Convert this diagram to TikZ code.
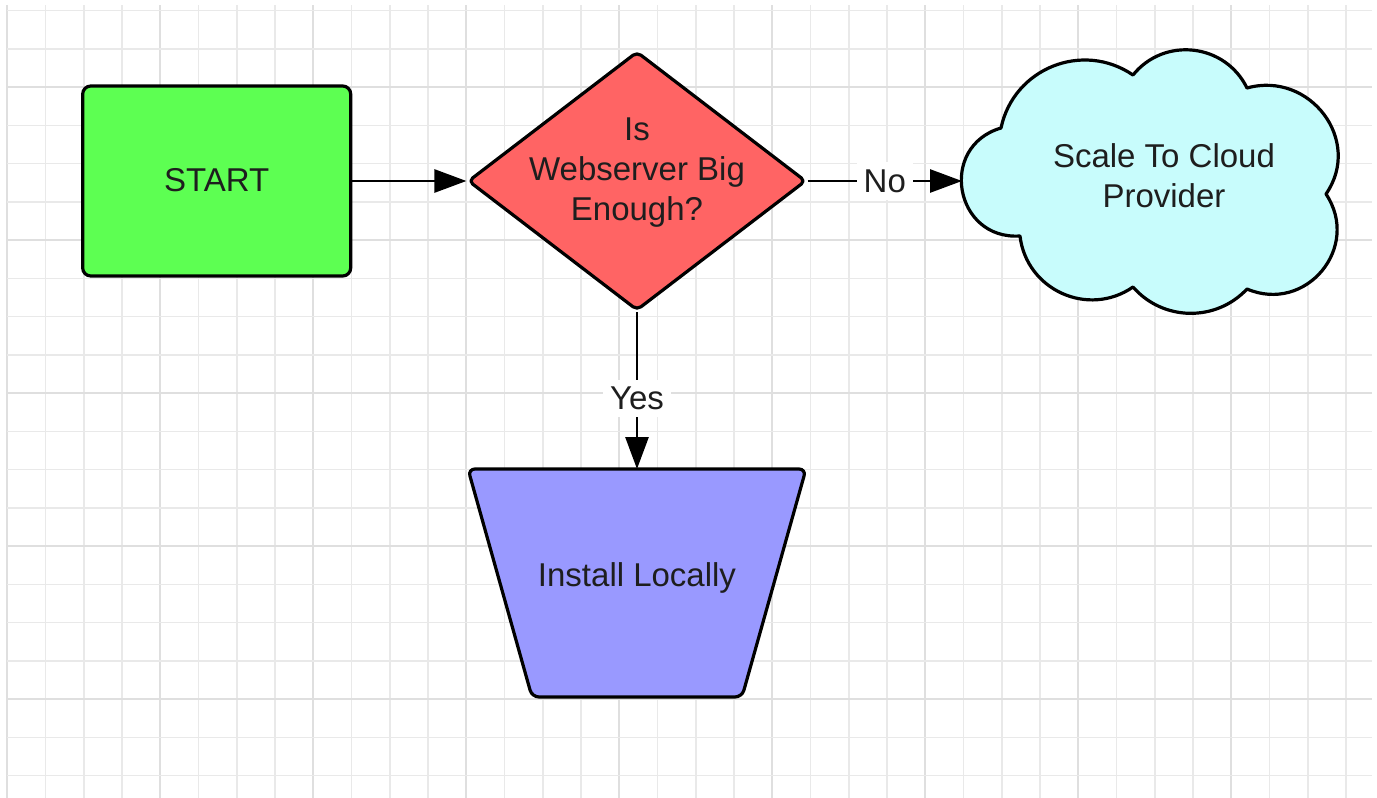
\documentclass[tikz,border=0pt]{standalone}
\usepackage{fontspec}
\setmainfont{Liberation Sans}
\usetikzlibrary{shapes.geometric,arrows.meta}
\definecolor{gridminor}{HTML}{E9E9E9}
\definecolor{gridmajor}{HTML}{DFDFDF}
\definecolor{startgreen}{HTML}{5DFF52}
\definecolor{decred}{HTML}{FF6464}
\definecolor{cloudcyan}{HTML}{C8FCFC}
\definecolor{trapblue}{HTML}{9999FF}
\definecolor{txt}{HTML}{1E1E1E}
\begin{document}
\begin{tikzpicture}[x=1pt,y=-1pt,
  minorline/.style={draw=gridminor,line width=1.5pt},
  majorline/.style={draw=gridmajor,line width=1.7pt},
  shapeline/.style={draw=black,line width=3.2pt,line join=round},
  lbl/.style={font=\fontsize{33}{40}\selectfont,text=txt,align=center,inner sep=0pt},
  conn/.style={draw=black,line width=2.8pt,-{Triangle[length=32pt,width=23pt]}},
  edgelbl/.style={font=\fontsize{33}{40}\selectfont,text=txt,fill=white,inner sep=7pt}
]
\useasboundingbox (0,0) rectangle (1377,798);
\fill[white] (0,0) rectangle (1377,798);
% grid
\foreach \k in {0,...,35}{
  \pgfmathsetmacro\xx{7.3+38.25*\k}
  \pgfmathtruncatemacro\m{mod(\k,4)}
  \ifnum\m=0 \draw[majorline] (\xx,5) -- (\xx,798);
  \else \draw[minorline] (\xx,5) -- (\xx,798); \fi
}
\foreach \j in {0,...,20}{
  \pgfmathsetmacro\yy{10.7+38.25*\j}
  \pgfmathtruncatemacro\m{mod(\j,4)}
  \ifnum\m=2 \draw[majorline] (7,\yy) -- (1372,\yy);
  \else \draw[minorline] (7,\yy) -- (1372,\yy); \fi
}
% START
\node[shapeline,fill=startgreen,rectangle,rounded corners=8pt,minimum width=268pt,minimum height=190pt,inner sep=0pt] (start) at (216.7,181) {};
\node[lbl] (starttext) at (216.7,180) {START};
% decision
\node[shapeline,fill=decred,diamond,rounded corners=5pt,minimum width=338pt,minimum height=259pt,inner sep=0pt] (dec) at (637,181) {};
\node[lbl] (dectext) at (637,173) {Is\\Webserver Big\\Enough?};
% cloud
\draw[shapeline,fill=cloudcyan] (1020,236)
 .. controls (954.4,240.1) and (937.9,146.5) .. (1001,128)
 .. controls (1013.6,68.3) and (1082.6,40.6) .. (1133,75)
 .. controls (1164.2,36.3) and (1225.2,43.3) .. (1247,88)
 .. controls (1309.8,70.6) and (1363.1,140.5) .. (1326,194)
 .. controls (1361.5,247.3) and (1305.9,314) .. (1247,289)
 .. controls (1215.9,322.2) and (1162.9,321.3) .. (1133,287)
 .. controls (1088.3,318) and (1026.4,290.1) .. (1020,236) -- cycle;
\coordinate (cloudin) at (962,181);
\node[lbl] (cloud) at (1164,176) {Scale To Cloud\\Provider};
% trapezoid
\draw[shapeline,fill=trapblue,rounded corners=7pt] (468,469) -- (806,469) -- (742,697) -- (532,697) -- cycle;
\coordinate (insttop) at (637,469);
\node[lbl] (inst) at (637,578) {Install Locally};
% connectors
\draw[conn] (start.east) -- (dec.west);
\draw[conn] (dec.east) -- node[edgelbl] (no) {No} (cloudin);
\draw[conn] (dec.south) -- node[edgelbl,pos=0.55] (yes) {Yes} (insttop);
\end{tikzpicture}
\end{document}
